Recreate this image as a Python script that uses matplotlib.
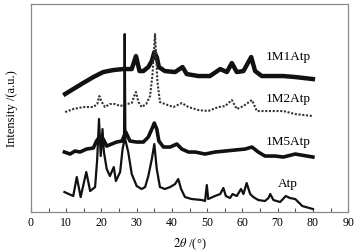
import matplotlib
matplotlib.use("Agg")
import matplotlib.pyplot as plt
from matplotlib.ticker import MultipleLocator

plt.rcParams['font.family'] = ['Liberation Serif', 'DejaVu Serif']
plt.rcParams['mathtext.fontset'] = 'stix'

# values (arbitrary intensity units, stacked offsets included)
atp_x = [9.5, 12.0, 13.0, 14.1, 15.7, 16.8, 18.2, 18.8, 19.3, 19.8, 20.3, 20.7, 21.5,
         22.4, 23.5, 24.1, 25.3, 26.0, 26.4, 26.6, 26.8, 27.6, 28.6, 30.0, 31.4, 32.4,
         33.3, 34.3, 35.0, 35.7, 36.6, 38.0, 39.5, 40.9, 41.8, 42.6, 43.7, 45.6, 48.5,
         49.4, 49.9, 50.3, 52.2, 53.7, 54.6, 55.3, 56.5, 57.2, 58.4, 59.6, 60.3, 61.2,
         62.2, 63.1, 64.5, 66.4, 67.4, 67.9, 68.8, 70.7, 72.3, 73.5, 75.0, 77.0, 80.0]
atp_y = [20, 16, 35, 15, 40, 21, 25, 53, 93, 56, 83, 60, 43,
         36, 45, 31, 40, 63, 70, 178, 72, 60, 38, 26, 23, 25,
         36, 53, 68, 43, 25, 23, 25, 28, 33, 23, 15, 13, 12,
         11, 27, 13, 16, 18, 24, 16, 14, 18, 16, 23, 18, 29,
         18, 15, 12, 11, 14, 18, 12, 10, 16, 14, 13, 6, 3]

m5_x = [9.5, 11.1, 12.5, 13.9, 15.8, 17.7, 18.6, 19.6, 20.5, 21.5, 22.9, 24.3, 25.8,
        26.9, 28.1, 30.0, 31.9, 33.3, 34.3, 35.0, 35.7, 36.3, 37.6, 39.5, 41.4, 42.8,
        44.7, 46.6, 49.4, 52.2, 55.1, 57.9, 60.8, 62.7, 64.5, 66.4, 69.3, 71.6, 75.0, 80.0]
m5_y = [60, 58, 61, 60, 63, 64, 71, 76, 73, 66, 68, 70, 71,
        80, 71, 70, 70, 75, 83, 89, 83, 71, 65, 65, 68, 63,
        60, 60, 58, 60, 61, 62, 63, 65, 60, 56, 56, 55, 58, 55]

m2_x = [9.7, 12.0, 14.8, 17.7, 18.8, 19.4, 20.1, 21.0, 22.4, 23.9, 25.3, 27.2, 28.6,
        29.5, 29.8, 30.5, 31.4, 32.7, 33.8, 34.5, 35.2, 35.9, 36.6, 38.0, 40.4, 42.8,
        44.7, 47.5, 50.3, 53.2, 55.1, 57.0, 58.4, 60.3, 62.7, 64.1, 66.4, 69.3, 71.6,
        75.0, 80.0]
m2_y = [100, 103, 105, 105, 108, 116, 110, 105, 108, 108, 106, 108, 109,
        118, 120, 110, 105, 108, 116, 138, 178, 130, 110, 108, 105, 109,
        105, 102, 101, 105, 106, 112, 103, 106, 112, 101, 101, 101, 101,
        98, 96]

m1_x = [9.7, 12.0, 14.8, 17.7, 20.5, 23.4, 26.2, 28.6, 29.8, 30.8, 31.9, 33.3, 34.3,
        35.0, 35.7, 36.3, 38.0, 40.9, 43.0, 44.2, 47.5, 50.8, 53.7, 55.6, 57.0, 58.4,
        60.3, 62.5, 63.6, 65.5, 68.3, 71.6, 75.0, 80.0]
m1_y = [118, 123, 129, 135, 140, 142, 143, 143, 156, 141, 141, 145, 151,
        160, 155, 145, 141, 140, 145, 138, 136, 136, 143, 140, 149, 140,
        141, 155, 141, 136, 136, 136, 135, 133]

labels = ['1M1Atp', '1M2Atp', '1M5Atp', 'Atp']
label_x = [73.1, 73.1, 73.1, 73.0]
label_y = [156, 114, 71, 29]

fig = plt.figure(figsize=(3.6, 2.53), dpi=100)
ax = fig.add_axes([0.086, 0.158, 0.881, 0.822])

ax.plot(m1_x, m1_y, color='#111111', lw=3.2)
ax.plot(m2_x, m2_y, color='#333333', lw=1.5, ls=(0, (1, 0.8)))
ax.plot(m5_x, m5_y, color='#111111', lw=2.6)
ax.plot(atp_x, atp_y, color='#111111', lw=1.6)

for t, lx, ly in zip(labels, label_x, label_y):
    ax.text(lx, ly, t, fontsize=9.5, ha='center', va='center')

ax.set_xlim(0, 90)
ax.set_ylim(0, 208)
ax.xaxis.set_major_locator(MultipleLocator(10))
ax.xaxis.set_minor_locator(MultipleLocator(5))
ax.tick_params(axis='x', which='both', direction='in', length=3, width=0.8,
               color='#555555', labelsize=8.5, pad=3)
ax.set_yticks([])
for s in ax.spines.values():
    s.set_color('#8a8a8a')
    s.set_linewidth(0.9)

ax.set_xlabel(r'$\mathit{2\theta}$ /(°)', fontsize=9, labelpad=5)
ax.set_ylabel('Intensity /(a.u.)', fontsize=9, labelpad=9)

fig.savefig('out.png', dpi=100)
